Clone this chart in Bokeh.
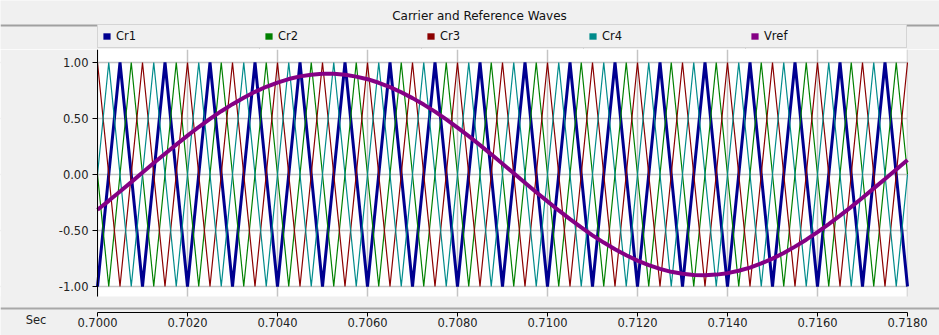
from bokeh.plotting import figure
from bokeh.layouts import column
from bokeh.models import (ColumnDataSource, FixedTicker, PrintfTickFormatter, Legend,
                          LegendItem, BoxAnnotation, Span, Label, Range1d)
from bokeh.embed import file_html
from bokeh.resources import INLINE

# ---------------- data ----------------
title_text = "Carrier and Reference Waves"
series_names = ["Cr1", "Cr2", "Cr3", "Cr4", "Vref"]
series_colors = ["#000090", "#008000", "#8b0000", "#008b8b", "#850085"]
x_axis_name = "Sec"

x_ticks = [0.7000, 0.7020, 0.7040, 0.7060, 0.7080, 0.7100, 0.7120, 0.7140, 0.7160, 0.7180]
y_ticks = [-1.0, -0.5, 0.0, 0.5, 1.0]

# carrier vertex times (peaks / troughs) for Cr1 and Cr3
t_a = [0.7000, 0.7005, 0.7010, 0.7015, 0.7020, 0.7025, 0.7030, 0.7035, 0.7040, 0.7045,
       0.7050, 0.7055, 0.7060, 0.7065, 0.7070, 0.7075, 0.7080, 0.7085, 0.7090, 0.7095,
       0.7100, 0.7105, 0.7110, 0.7115, 0.7120, 0.7125, 0.7130, 0.7135, 0.7140, 0.7145,
       0.7150, 0.7155, 0.7160, 0.7165, 0.7170, 0.7175, 0.7180]
cr1 = [-1, 1, -1, 1, -1, 1, -1, 1, -1, 1, -1, 1, -1, 1, -1, 1, -1, 1, -1,
       1, -1, 1, -1, 1, -1, 1, -1, 1, -1, 1, -1, 1, -1, 1, -1, 1, -1]
cr3 = [1, -1, 1, -1, 1, -1, 1, -1, 1, -1, 1, -1, 1, -1, 1, -1, 1, -1, 1,
       -1, 1, -1, 1, -1, 1, -1, 1, -1, 1, -1, 1, -1, 1, -1, 1, -1, 1]

# Cr2 and Cr4: edge values (0 at both window edges) plus peaks / troughs
t_b = [0.70000, 0.70025, 0.70075, 0.70125, 0.70175, 0.70225, 0.70275, 0.70325, 0.70375,
       0.70425, 0.70475, 0.70525, 0.70575, 0.70625, 0.70675, 0.70725, 0.70775, 0.70825,
       0.70875, 0.70925, 0.70975, 0.71025, 0.71075, 0.71125, 0.71175, 0.71225, 0.71275,
       0.71325, 0.71375, 0.71425, 0.71475, 0.71525, 0.71575, 0.71625, 0.71675, 0.71725,
       0.71775, 0.71800]
cr2 = [0, -1, 1, -1, 1, -1, 1, -1, 1, -1, 1, -1, 1, -1, 1, -1, 1, -1, 1,
       -1, 1, -1, 1, -1, 1, -1, 1, -1, 1, -1, 1, -1, 1, -1, 1, -1, 1, 0]
cr4 = [0, 1, -1, 1, -1, 1, -1, 1, -1, 1, -1, 1, -1, 1, -1, 1, -1, 1, -1,
       1, -1, 1, -1, 1, -1, 1, -1, 1, -1, 1, -1, 1, -1, 1, -1, 1, -1, 0]

t_ref = [0.70000, 0.70025, 0.70050, 0.70075, 0.70100, 0.70125, 0.70150, 0.70175, 0.70200,
         0.70225, 0.70250, 0.70275, 0.70300, 0.70325, 0.70350, 0.70375, 0.70400, 0.70425,
         0.70450, 0.70475, 0.70500, 0.70525, 0.70550, 0.70575, 0.70600, 0.70625, 0.70650,
         0.70675, 0.70700, 0.70725, 0.70750, 0.70775, 0.70800, 0.70825, 0.70850, 0.70875,
         0.70900, 0.70925, 0.70950, 0.70975, 0.71000, 0.71025, 0.71050, 0.71075, 0.71100,
         0.71125, 0.71150, 0.71175, 0.71200, 0.71225, 0.71250, 0.71275, 0.71300, 0.71325,
         0.71350, 0.71375, 0.71400, 0.71425, 0.71450, 0.71475, 0.71500, 0.71525, 0.71550,
         0.71575, 0.71600, 0.71625, 0.71650, 0.71675, 0.71700, 0.71725, 0.71750, 0.71775,
         0.71800]
vref = [-0.315, -0.235, -0.152, -0.068, 0.017, 0.102, 0.185, 0.267, 0.347, 0.424,
        0.496, 0.565, 0.628, 0.686, 0.738, 0.783, 0.821, 0.852, 0.876, 0.891,
        0.899, 0.899, 0.891, 0.874, 0.851, 0.819, 0.780, 0.734, 0.682, 0.624,
        0.561, 0.492, 0.419, 0.342, 0.262, 0.180, 0.096, 0.011, -0.073, -0.158,
        -0.240, -0.321, -0.399, -0.473, -0.543, -0.608, -0.667, -0.721, -0.769, -0.809,
        -0.843, -0.869, -0.887, -0.897, -0.900, -0.894, -0.881, -0.859, -0.831, -0.794,
        -0.751, -0.701, -0.644, -0.582, -0.515, -0.443, -0.367, -0.289, -0.207, -0.124,
        -0.040, 0.045, 0.130]

# ---------------- styling constants ----------------
FONT = "DejaVu Sans"
BG = "#f0f0f0"
W = 939
H = 335
HEAD_H = 49
PLOT_LEFT = 97
CELL_W = 162

# ---------------- header: title bar + legend row (x, y data == page pixels) ----------------
head = figure(width=W, height=HEAD_H, output_backend="svg", toolbar_location=None,
              x_range=Range1d(0, W), y_range=Range1d(HEAD_H, 0),
              min_border=0, min_border_left=0, min_border_right=0,
              min_border_top=0, min_border_bottom=0)
head.axis.visible = False
head.grid.visible = False
head.border_fill_color = BG
head.background_fill_color = BG
head.outline_line_color = None

head.add_layout(Label(x=479, y=15, text=title_text, text_font=FONT, text_font_size="12px",
                      text_align="center", text_baseline="middle", text_color="#111111"))
head.add_layout(Span(location=25, dimension="width", line_color="#a0a0a0", line_width=2))

# legend swatch renderers (one zero-size quad each, outside the view)
swatch_src = ColumnDataSource(dict(l=[-20], r=[-20], t=[-20], b=[-20]))
items = []
for name, color in zip(series_names, series_colors):
    r = head.quad(left="l", right="r", top="t", bottom="b", source=swatch_src,
                  fill_color=color, line_color=None)
    items.append(LegendItem(label=name, renderers=[r]))
legend = Legend(items=items, orientation="horizontal", location=(PLOT_LEFT, 1), margin=0,
                padding=4, spacing=10, glyph_width=9, glyph_height=8, label_standoff=5,
                label_width=138, label_height=14, label_text_font=FONT,
                label_text_font_size="11.5px", label_text_color="#111111",
                background_fill_color=BG, background_fill_alpha=1.0,
                border_line_color="#b8b8b8", border_line_width=1)
head.add_layout(legend)
# cell separators and the underline of the selected trace name
sep_x = [PLOT_LEFT + CELL_W * i for i in range(1, 5)]
head.segment(x0=sep_x, y0=[26] * 4, x1=sep_x, y1=[48] * 4, line_color="#b8b8b8", line_width=1)
head.segment(x0=[115], y0=[45.5], x1=[135], y1=[45.5], line_color="#111111", line_width=1)

# ---------------- main plot (its frame fills the whole figure) ----------------
T0, T1 = 0.7000, 0.7180          # plotted time window
PX_PER_SEC = 45000.0             # horizontal scale
PX_PER_UNIT = 112.0              # vertical scale
Y_TOP = 1.116                    # value at the top edge of the plot area
Y_WHITE_BOTTOM = -1.089          # bottom of the white plot area
Y_SEP = -1.196                   # grey separator above the time axis
Y_AXIS_LINE = -1.232             # where the time axis is drawn
Y_BOTTOM = Y_TOP - (H - HEAD_H) / PX_PER_UNIT
X_LEFT = T0 - PLOT_LEFT / PX_PER_SEC
X_RIGHT = X_LEFT + W / PX_PER_SEC
SEC_X = T0 - 61.5 / PX_PER_SEC
SEC_Y = -1.3036

p = figure(width=W, height=H - HEAD_H, output_backend="svg", toolbar_location=None,
           x_range=Range1d(X_LEFT, X_RIGHT), y_range=Range1d(Y_BOTTOM, Y_TOP),
           min_border=0, min_border_left=0, min_border_right=0, min_border_top=0,
           min_border_bottom=0)
p.border_fill_color = BG
p.background_fill_color = "white"
p.outline_line_color = None

# grid
p.xgrid.ticker = FixedTicker(ticks=x_ticks)
p.ygrid.ticker = FixedTicker(ticks=y_ticks)
p.grid.grid_line_color = "#c4c4c4"
p.grid.grid_line_width = 1.5

# grey surroundings of the white plot area (over the grid, under traces and axes)
p.add_layout(BoxAnnotation(right=T0, fill_color=BG, fill_alpha=1.0, line_color=None,
                           level="underlay"))
p.add_layout(BoxAnnotation(left=T1, fill_color=BG, fill_alpha=1.0, line_color=None,
                           level="underlay"))
p.add_layout(BoxAnnotation(top=Y_WHITE_BOTTOM, fill_color=BG, fill_alpha=1.0,
                           line_color=None, level="underlay"))
p.add_layout(Span(location=Y_SEP, dimension="width", line_color="#a8a8a8", line_width=2,
                  level="underlay"))

# axes, drawn at fixed places inside the frame
p.xaxis.fixed_location = Y_AXIS_LINE
p.yaxis.fixed_location = T0
p.xaxis.ticker = FixedTicker(ticks=x_ticks)
p.yaxis.ticker = FixedTicker(ticks=y_ticks)
p.xaxis.formatter = PrintfTickFormatter(format="%.4f")
p.yaxis.formatter = PrintfTickFormatter(format="%.2f")
for ax in (p.xaxis, p.yaxis):
    ax.axis_line_color = "black"
    ax.major_tick_line_color = "black"
    ax.minor_tick_line_color = None
    ax.major_tick_in = 0
    ax.major_label_text_font = FONT
    ax.major_label_text_font_size = "11.5px"
    ax.major_label_text_color = "#222222"
p.xaxis.major_tick_out = 4
p.xaxis.major_label_standoff = 2
p.yaxis.major_tick_out = 5
p.yaxis.major_label_standoff = 4
p.xaxis.bounds = (T0, T1)
p.yaxis.bounds = (Y_WHITE_BOTTOM, Y_TOP)

# "Sec" caption at the lower left
p.add_layout(Label(x=SEC_X, y=SEC_Y, text=x_axis_name, text_font=FONT,
                   text_font_size="11.5px", text_align="center", text_baseline="middle",
                   text_color="#222222"))

# series
p.line(t_a, cr1, line_color=series_colors[0], line_width=3)
p.line(t_b, cr2, line_color=series_colors[1], line_width=1.2)
p.line(t_a, cr3, line_color=series_colors[2], line_width=1.2)
p.line(t_b, cr4, line_color=series_colors[3], line_width=1.2)
p.line(t_ref, vref, line_color=series_colors[4], line_width=4)

layout = column(head, p, spacing=0)
open("out.html", "w").write(file_html(layout, INLINE))
